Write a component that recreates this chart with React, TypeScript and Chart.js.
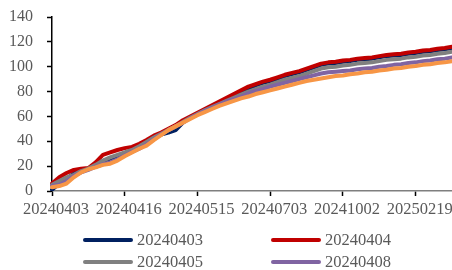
import React, { useEffect, useRef } from "react";
import { Chart, registerables } from "chart.js";

Chart.register(...registerables);

const dates: string[] = [
  "20240403", "20240404", "20240405", "20240407", "20240408", "20240409", "20240410", "20240411", "20240412", "20240415",
  "20240416", "20240419", "20240422", "20240425", "20240429", "20240430", "20240503", "20240507", "20240509", "20240513",
  "20240515", "20240520", "20240524", "20240529", "20240603", "20240607", "20240612", "20240617", "20240621", "20240626",
  "20240703", "20240712", "20240722", "20240731", "20240809", "20240820", "20240829", "20240909", "20240918", "20240925",
  "20241002", "20241016", "20241030", "20241113", "20241127", "20241211", "20241225", "20250108", "20250122", "20250205",
  "20250219", "20250305", "20250319", "20250402", "20250416", "20250430",
];

const seriesNames: string[] = ["20240403", "20240404", "20240405", "20240408", "20240409"];
const seriesColors: string[] = ["#002060", "#C00000", "#808080", "#8064A2", "#F79646"];

const s20240403: number[] = [
  1, 6, 10, 14, 17, 18, 21, 24, 26, 28,
  30.5, 33, 35.5, 39, 42.5, 45.5, 47, 49, 55, 59,
  62, 65, 68, 71, 74, 77, 80, 82.5, 85, 87,
  88.5, 90.5, 92.5, 94, 95.5, 97.5, 99.5, 101.5, 102.5, 103,
  104, 104.5, 105.5, 106, 106.5, 107.5, 108.5, 109, 109.5, 110.5,
  111, 112, 112.5, 113.5, 114, 115,
];
const s20240404: number[] = [
  6, 11, 14.5, 17, 18, 18.5, 23, 29, 31, 33,
  34.5, 35.5, 38, 41, 44.5, 47, 50, 53, 57, 60,
  63, 66, 69, 72, 75, 78, 81, 84, 86, 88,
  89.5, 91.5, 93.5, 95, 96.5, 98.5, 100.5, 102.5, 103.5, 104,
  105, 105.5, 106.5, 107, 107.5, 108.5, 109.5, 110, 110.5, 111.5,
  112, 113, 113.5, 114.5, 115, 116,
];
const s20240405: number[] = [
  5, 8, 11, 13, 16, 18, 21, 24.5, 27, 29,
  31, 33, 36, 39.5, 43, 46, 49, 52, 55.5, 59,
  62, 65, 67.5, 70, 72.5, 75, 77.5, 80, 82, 84,
  85.5, 87.5, 89.5, 91, 92.5, 94.5, 96.5, 98.5, 99.5, 100,
  101, 101.5, 102.5, 103, 103.5, 104.5, 105.5, 106, 106.5, 107.5,
  108, 109, 109.5, 110.5, 111, 112,
];
const s20240408: number[] = [
  4, 5, 8, 12, 15, 17, 19.5, 21.5, 23, 25.5,
  28.5, 31.5, 34, 37.5, 41.5, 45.5, 49, 52, 55, 58.5,
  61.5, 64.5, 67, 69.5, 72, 74, 76, 78.5, 80.5, 82,
  84, 85.5, 87, 88.5, 90, 91.5, 93, 94.5, 95.5, 96,
  96.5, 97, 98, 98.5, 99, 100, 100.5, 101.5, 102, 103,
  103.5, 104.5, 105, 106, 106.5, 107.5,
];
const s20240409: number[] = [
  3, 4, 6, 11, 15, 17.5, 19, 21, 22, 24.5,
  28, 31, 34, 36.5, 41, 45, 49, 52, 55, 58,
  61, 63.5, 66, 68.5, 70.5, 72.5, 74.5, 76, 78, 79.5,
  81, 82.5, 84, 85.5, 87, 88.5, 89.5, 90.5, 91.5, 92.5,
  93, 94, 94.5, 95.5, 96, 97, 97.5, 98.5, 99, 100,
  100.5, 101.5, 102, 103, 103.5, 104.5,
];
const seriesValues: number[][] = [s20240403, s20240404, s20240405, s20240408, s20240409];
const legendShown = 4;

const yTicks = { min: 0, max: 140, step: 20 };
const labelEvery = 10;

const FONT = "'Liberation Serif', 'Times New Roman', serif";
const TEXT = "#595959";

export default function App() {
  const ref = useRef<HTMLCanvasElement | null>(null);

  useEffect(() => {
    document.body.style.margin = "0";
    const ctx = ref.current!;
    const chart = new Chart(ctx, {
      type: "line",
      data: {
        labels: dates,
        datasets: seriesValues.map((vals, i) => ({
          label: seriesNames[i],
          data: vals,
          borderColor: seriesColors[i],
          backgroundColor: seriesColors[i],
          borderWidth: 4,
          pointRadius: 0,
          tension: 0,
          borderJoinStyle: "round" as const,
          borderCapStyle: "round" as const,
          order: seriesValues.length - i,
        })),
      },
      options: {
        animation: false,
        responsive: false,
        maintainAspectRatio: false,
        layout: { padding: { top: 17, right: 0, bottom: 49, left: 0 } },
        plugins: { legend: { display: false }, tooltip: { enabled: false } },
        scales: {
          x: {
            type: "category",
            offset: false,
            border: { display: true, color: "#7f7f7f", width: 1.5 },
            grid: {
              drawOnChartArea: false,
              drawTicks: true,
              tickLength: 5,
              tickColor: (c: any) => (c.index % labelEvery === 0 ? "#000" : "rgba(0,0,0,0)"),
              tickWidth: 1.5,
            },
            ticks: {
              autoSkip: false,
              maxRotation: 0,
              minRotation: 0,
              labelOffset: 4,
              padding: 4,
              color: TEXT,
              font: { family: FONT, size: 16.5 },
              callback: function (this: any, v: any, i: number) {
                return i % labelEvery === 0 ? this.getLabelForValue(v) : "";
              },
            },
            afterFit: (s: any) => {
              s.height = 30;
              s.paddingLeft = 0;
              s.paddingRight = 0;
            },
          },
          y: {
            min: yTicks.min,
            max: yTicks.max,
            border: { display: true, color: "#000", width: 1.5 },
            grid: { drawOnChartArea: false, drawTicks: true, tickLength: 5, tickColor: "#000", tickWidth: 1.5 },
            ticks: {
              stepSize: yTicks.step,
              padding: 14,
              color: TEXT,
              font: { family: FONT, size: 16 },
            },
            afterFit: (s: any) => {
              s.width = 52;
              s.paddingTop = 0;
              s.paddingBottom = 0;
            },
          },
        },
      },
    });
    return () => chart.destroy();
  }, []);

  const legendItems = seriesNames.slice(0, legendShown).map((name, i) => ({ name, color: seriesColors[i] }));

  return (
    <div style={{ position: "absolute", left: 0, top: 0, width: 452, height: 270, overflow: "hidden" }}>
      <canvas ref={ref} width={452} height={270} style={{ display: "block" }} />
      {legendItems.map((it, i) => {
        const col = i % 2;
        const row = Math.floor(i / 2);
        return (
          <div
            key={it.name}
            style={{
              position: "absolute",
              left: 83 + col * 188,
              top: 230 + row * 22,
              height: 20,
              display: "flex",
              alignItems: "center",
              fontFamily: FONT,
              fontSize: 16.5,
              color: TEXT,
              whiteSpace: "nowrap",
            }}
          >
            <span
              style={{
                display: "inline-block",
                width: 50,
                height: 4,
                borderRadius: 2,
                background: it.color,
                marginRight: 4,
              }}
            />
            <span>{it.name}</span>
          </div>
        );
      })}
    </div>
  );
}
